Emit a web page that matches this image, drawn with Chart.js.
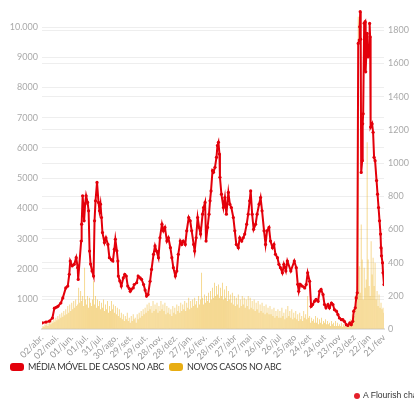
<!DOCTYPE html>
<html><head><meta charset="utf-8">
<script src="https://cdn.jsdelivr.net/npm/chart.js@4"></script>
<style>
html,body{margin:0;padding:0;background:#fff;overflow:hidden;}
#wrap{position:relative;width:414px;height:401px;}
#legend{position:absolute;left:10px;top:361px;font:9px 'Lato',sans-serif;letter-spacing:-0.3px;color:#333;white-space:nowrap;line-height:12px;}
#legend .item{display:inline-block;margin-right:5px;}
#legend .sw{display:inline-block;width:14px;height:8px;border-radius:3px;vertical-align:-1px;margin-right:4px;}
#credit{position:absolute;left:354px;top:390px;font:8.6px 'Liberation Sans',Arial,sans-serif;color:#333;white-space:nowrap;}
#credit .dot{display:inline-block;width:6px;height:6px;border-radius:50%;background:#e4202a;margin-right:3px;vertical-align:-1px}
</style></head><body>
<div id="wrap"><canvas id="c" width="414" height="401"></canvas>
<div id="legend"></div>
<div id="credit"><span class="dot"></span>A Flourish chart</div></div>
<script>
// x-axis tick labels (every 30 days from 02/abr/2020)
const tickLabels = ['02/abr.','02/mai.','01/jun.','01/jul.','31/jul.','30/ago.','29/set.','29/out.','28/nov.','28/dez.','27/jan.','26/fev.','28/mar.','27/abr','27/mai','26/jun','26/jul','25/ago','24/set','24/out','23/nov','23/dez','22/jan','21/fev'];
const tickDays = [0,30,60,90,120,150,180,210,240,270,300,330,360,390,420,450,480,510,540,570,600,630,660,690];
const leftTicks = [1000,2000,3000,4000,5000,6000,7000,8000,9000,10000];
const rightTicks = [0,200,400,600,800,1000,1200,1400,1600,1800];
const seriesNames = ['MÉDIA MÓVEL DE CASOS NO ABC', 'NOVOS CASOS NO ABC'];

const mediaDays = [0,8,15,21,25,29,32,38,42,48,52,55,57,61,65,69,72,73,79,80,82,84,85,87,89,92,94,96,98,101,104,106,108,111,114,116,118,120,122,126,129,133,136,140,143,146,148,151,153,154,157,160,164,167,170,173,176,178,180,184,186,191,194,198,201,205,208,211,214,218,221,225,228,231,235,238,242,245,248,252,255,259,262,265,269,272,275,279,282,285,289,292,296,299,302,306,308,311,314,317,320,324,326,329,331,334,337,339,341,344,346,349,352,354,356,358,359,362,366,369,372,376,379,382,386,389,392,396,399,403,406,409,413,416,419,421,424,427,431,434,438,441,444,448,451,454,458,461,465,468,471,475,478,481,485,488,492,495,502,509,513,516,518,521,525,530,533,536,540,543,546,550,553,557,560,563,567,570,573,577,580,584,587,590,594,597,600,604,607,610,614,617,621,624,627,629,632,634,636,638,640,641,642,643,644,646,647,648,650,652,653,656,658,660,661,662,663,666,668,670,672,675,677,679,681,683,684,685,687,688,690];
const mediaValues = [210,240,270,375,700,730,760,870,1040,1370,1430,1820,2260,2100,2150,2370,2040,1650,2920,3480,4420,3920,3590,4150,4420,4200,3920,2590,2160,1930,1760,3590,4250,4860,4200,3920,4140,3700,3200,2870,3030,2810,2370,2300,2260,2650,2980,2600,2260,1760,1600,1430,1700,1820,1760,1430,1350,1260,1320,1370,1480,1540,1760,1700,1650,1480,1300,1100,1150,1590,1980,2480,2760,2590,2370,3030,3480,3260,3370,2920,3030,2700,2370,2040,1760,1930,2480,2920,2810,2920,2810,3260,3700,3590,3260,2810,2590,3030,3700,3370,3150,3810,4030,4200,2920,3370,3810,4250,4580,5250,5200,5360,5690,6080,6190,5800,5030,4470,4030,4360,3810,4530,4140,4030,3700,3260,2810,2700,3030,2920,3030,3150,3480,3810,4250,4580,3810,3310,3480,3810,4140,4360,3920,3260,2810,3260,3370,2920,2700,2810,2480,2370,2150,2040,1870,2150,1930,2260,1930,2260,2040,1490,1260,1490,1430,1370,1480,1870,1590,760,820,930,990,930,1260,1320,1150,820,710,820,710,870,820,650,600,490,375,320,320,265,155,130,210,155,265,600,710,1040,1210,9460,9570,10010,10510,9600,5190,5580,6800,7130,10130,10180,8520,9790,9010,9240,10120,9680,6690,6800,6520,5690,5580,4920,4470,4030,3590,3150,2700,2430,2200,1870,1480];

const novosStepDays = 2;
const novosValues = [
10,20,15,30,25,40,20,35,45,30,
50,40,60,45,70,55,80,60,90,70,
100,75,110,85,120,90,140,100,150,110,
160,120,170,130,180,140,150,250,160,230,
170,200,140,370,180,150,200,130,190,160,
140,180,290,150,200,130,180,140,170,120,
160,130,180,110,150,120,170,100,140,110,
170,120,150,100,140,90,130,80,120,70,
100,60,90,50,80,60,100,50,70,40,
80,50,90,60,70,40,90,60,100,70,
110,80,120,90,130,100,150,110,160,120,
140,100,170,110,150,120,160,100,140,110,
170,120,150,110,160,90,140,100,130,90,
120,80,140,100,130,90,150,110,140,100,
160,110,150,120,170,110,160,130,190,120,
170,130,180,140,190,150,170,130,200,150,
180,340,190,150,210,160,200,170,220,160,
230,180,250,190,280,200,260,210,270,190,
250,200,280,180,240,190,260,170,230,180,
210,160,220,150,200,140,190,150,210,130,
180,140,200,150,190,130,180,140,200,120,
190,130,170,120,180,110,160,120,170,100,
150,110,160,100,140,90,150,100,130,90,
140,90,120,80,130,70,110,80,120,70,
110,70,130,80,100,60,120,70,140,80,
110,70,120,60,100,70,110,60,90,50,
100,60,80,50,110,70,90,60,200,70,
80,40,70,50,60,40,80,40,70,30,
60,40,70,30,50,40,60,30,50,30,
40,20,50,30,40,20,50,20,40,20,
30,20,40,15,30,20,35,15,30,25,
40,60,30,90,120,80,200,150,260,1880,
380,220,630,420,180,370,250,300,1125,420,
260,200,530,330,430,260,400,180,230,140,
210,130,160,120,130,100];

const RED = '#e3000b';
const GOLD = '#e8ad12';
const FONT = 'Lato';

// HTML legend
document.getElementById('legend').innerHTML = seriesNames.map((n, i) =>
  '<span class="item"><span class="sw" style="background:' + (i === 0 ? RED : GOLD) + '"></span>' + n + '</span>').join('');

new Chart(document.getElementById('c'), {
  type: 'line',
  data: {
    datasets: [
      { type: 'line', label: seriesNames[0],
        data: mediaDays.map((d, i) => ({ x: d, y: mediaValues[i] })),
        yAxisID: 'y', borderColor: RED, backgroundColor: RED, borderWidth: 2,
        pointRadius: 1.6, pointBackgroundColor: RED, pointBorderWidth: 0, tension: 0, order: 0 },
      { type: 'bar', label: seriesNames[1],
        data: novosValues.map((v, i) => ({ x: i * novosStepDays, y: v })),
        yAxisID: 'y1', backgroundColor: 'rgba(236,180,40,0.6)', barPercentage: 0.85, categoryPercentage: 1, order: 1 }
    ]
  },
  options: {
    responsive: false, animation: false,
    layout: { padding: { top: 10, bottom: 36, left: 0, right: 0 } },
    plugins: { tooltip: { enabled: false }, legend: { display: false } },
    scales: {
      x: {
        type: 'linear', min: 0, max: 690, offset: false,
        afterBuildTicks: (s) => { s.ticks = tickDays.map(v => ({ value: v })); },
        ticks: { autoSkip: false, minRotation: 45, maxRotation: 45, padding: 3,
          font: { family: FONT, size: 9 }, color: '#999',
          callback: (v, i) => tickLabels[i] },
        grid: { display: false, drawTicks: false, offset: false },
        border: { display: true, color: '#e4e4e4', width: 2 }
      },
      y: {
        type: 'linear', position: 'left', min: 0, max: 10565,
        afterBuildTicks: (s) => { s.ticks = leftTicks.map(v => ({ value: v })); },
        afterFit: (s) => { s.width = 42; },
        ticks: { padding: 4, font: { family: FONT, size: 9 }, color: '#aaa',
          callback: (v) => v >= 10000 ? '10.000' : String(v) },
        grid: { color: '#eeeeee', drawTicks: false },
        border: { display: false }
      },
      y1: {
        type: 'linear', position: 'right', min: 0, max: 1921,
        afterBuildTicks: (s) => { s.ticks = rightTicks.map(v => ({ value: v })); },
        afterFit: (s) => { s.width = 30; },
        ticks: { padding: 4, font: { family: FONT, size: 9 }, color: '#aaa',
          callback: (v) => String(v) },
        grid: { color: '#eeeeee', drawTicks: false },
        border: { display: false }
      }
    }
  }
});
</script>
</body></html>
